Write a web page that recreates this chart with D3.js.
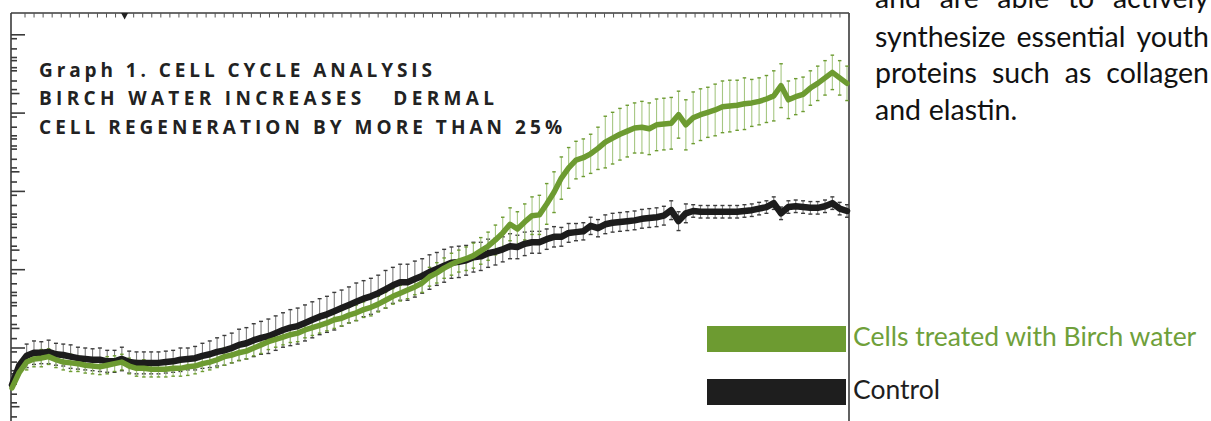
<!DOCTYPE html>
<html><head><meta charset="utf-8">
<script src="https://cdn.jsdelivr.net/npm/d3@7"></script>
<style>
html,body{margin:0;padding:0;background:#fff;}
svg{display:block;}
</style></head><body>
<svg id="chart" width="1211" height="421"></svg>
<script>
// Measurement index (one reading per interval)
const timepoints = d3.range(115);

// Control cells: mean cell index per reading
const control = [
  0.53,0.78,0.90,0.94,0.94,0.95,0.92,0.91,0.89,0.87,
  0.86,0.85,0.85,0.83,0.83,0.86,0.82,0.81,0.81,0.81,
  0.81,0.82,0.83,0.85,0.86,0.87,0.90,0.92,0.95,0.97,
  1.00,1.04,1.06,1.10,1.13,1.15,1.19,1.23,1.26,1.28,
  1.32,1.36,1.40,1.43,1.47,1.51,1.55,1.59,1.63,1.66,
  1.70,1.75,1.80,1.84,1.84,1.88,1.92,1.97,2.01,2.05,
  2.09,2.10,2.12,2.16,2.17,2.21,2.23,2.26,2.30,2.29,
  2.33,2.35,2.35,2.39,2.42,2.42,2.47,2.48,2.49,2.56,
  2.53,2.58,2.60,2.61,2.62,2.63,2.65,2.66,2.67,2.69,
  2.76,2.62,2.72,2.75,2.74,2.74,2.74,2.74,2.74,2.74,
  2.75,2.76,2.78,2.80,2.85,2.72,2.80,2.81,2.80,2.79,
  2.79,2.81,2.85,2.78,2.75
];
const controlErr = [
  0,0,0.15,0.15,0.14,0.15,0.14,0.14,0.15,0.14,
  0.14,0.14,0.15,0.14,0.14,0.15,0.14,0.14,0.14,0.14,
  0.14,0.14,0.14,0.15,0.14,0.15,0.16,0.17,0.18,0.19,
  0.19,0.20,0.20,0.21,0.21,0.22,0.22,0.22,0.23,0.23,
  0.23,0.23,0.23,0.23,0.24,0.23,0.23,0.24,0.23,0.23,
  0.23,0.24,0.23,0.23,0.23,0.23,0.22,0.22,0.21,0.21,
  0.20,0.20,0.19,0.19,0.18,0.18,0.17,0.16,0.16,0.15,
  0.15,0.14,0.14,0.13,0.13,0.12,0.12,0.11,0.11,0.11,
  0.11,0.12,0.12,0.12,0.12,0.12,0.12,0.12,0.12,0.12,
  0.12,0.12,0.12,0.08,0.08,0.08,0.08,0.08,0.08,0.08,
  0.08,0.08,0.08,0.08,0.08,0.08,0.08,0.08,0.08,0.08,
  0.08,0.08,0.08,0.08,0.08
];

// Cells treated with birch water: mean cell index per reading
const birch = [
  0.49,0.69,0.82,0.86,0.87,0.89,0.85,0.82,0.81,0.80,
  0.78,0.77,0.76,0.78,0.80,0.82,0.77,0.74,0.74,0.73,
  0.73,0.73,0.74,0.74,0.76,0.77,0.80,0.82,0.85,0.89,
  0.91,0.94,0.96,1.00,1.04,1.08,1.11,1.14,1.17,1.19,
  1.23,1.26,1.29,1.32,1.36,1.38,1.42,1.45,1.49,1.52,
  1.56,1.61,1.66,1.70,1.74,1.78,1.83,1.91,1.96,2.02,
  2.07,2.11,2.14,2.18,2.24,2.30,2.38,2.47,2.58,2.52,
  2.61,2.69,2.70,2.84,2.99,3.17,3.30,3.40,3.43,3.48,
  3.55,3.63,3.68,3.73,3.77,3.81,3.82,3.80,3.85,3.86,
  3.87,3.98,3.85,3.94,3.98,4.01,4.04,4.08,4.09,4.10,
  4.12,4.13,4.15,4.18,4.22,4.35,4.17,4.21,4.24,4.32,
  4.38,4.45,4.52,4.45,4.38
];
const birchErr = [
  0,0,0.10,0.10,0.11,0.10,0.10,0.10,0.11,0.10,
  0.10,0.10,0.10,0.11,0.10,0.10,0.10,0.10,0.11,0.10,
  0.10,0.10,0.10,0.10,0.11,0.10,0.10,0.10,0.10,0.11,
  0.10,0.10,0.10,0.10,0.11,0.10,0.10,0.10,0.10,0.11,
  0.10,0.10,0.10,0.10,0.11,0.10,0.10,0.10,0.10,0.11,
  0.10,0.10,0.10,0.10,0.11,0.10,0.12,0.12,0.13,0.13,
  0.14,0.14,0.15,0.16,0.17,0.18,0.19,0.20,0.21,0.22,
  0.23,0.24,0.25,0.26,0.26,0.27,0.26,0.24,0.24,0.25,
  0.27,0.33,0.33,0.33,0.33,0.32,0.33,0.33,0.33,0.33,
  0.33,0.30,0.32,0.33,0.33,0.32,0.33,0.33,0.33,0.32,
  0.33,0.30,0.30,0.30,0.32,0.28,0.24,0.23,0.22,0.22,
  0.22,0.22,0.22,0.22,0.22
];

// Vertical axis: long ticks and the repeating minor tick pattern below each one
const majorTicks = [1, 2, 3, 4, 5];
const minorOffsets = [0.05, 0.18, 0.29, 0.33, 0.42, 0.46, 0.59, 0.70, 0.75, 0.88];
const mediumOffset = 0.75;
const rulerTicks = d3.range(92);
const rulerMarker = 11;

const titleLines = [
  "Graph 1. CELL CYCLE ANALYSIS",
  "BIRCH WATER INCREASES   DERMAL",
  "CELL REGENERATION BY MORE THAN 25%"
];
const legendItems = [
  { label: "Cells treated with Birch water", color: "#6d9b31", text: "#6fa03a" },
  { label: "Control", color: "#1e1e1e", text: "#1e1e1e" }
];
const paragraphLines = [
  "and are able to actively",
  "synthesize essential youth",
  "proteins such as collagen",
  "and elastin."
];

const svg = d3.select("#chart");
const frame = { left: 11, top: 13, right: 849, bottom: 421 };

const x = d3.scaleLinear().domain([0, 114]).range([12, 847]);
const y = d3.scaleLinear().domain([0, 5]).range([426.3, 34.8]);
const ruler = d3.scaleLinear().domain([0, 91]).range([25, 849]);

// Frame
const axisColor = "#3a3a3a";
svg.append("line").attr("x1", frame.left).attr("x2", frame.right)
  .attr("y1", frame.top).attr("y2", frame.top)
  .attr("stroke", axisColor).attr("stroke-width", 1.6);
svg.append("line").attr("x1", frame.left).attr("x2", frame.left)
  .attr("y1", frame.top).attr("y2", frame.bottom)
  .attr("stroke", axisColor).attr("stroke-width", 1.6);
svg.append("line").attr("x1", frame.right).attr("x2", frame.right)
  .attr("y1", frame.top).attr("y2", frame.bottom)
  .attr("stroke", axisColor).attr("stroke-width", 1.6);

// Top ruler ticks
svg.append("g").selectAll("line").data(rulerTicks).join("line")
  .attr("x1", d => ruler(d)).attr("x2", d => ruler(d))
  .attr("y1", frame.top).attr("y2", frame.top + 4.5)
  .attr("stroke", "#555").attr("stroke-width", 1);
svg.append("path")
  .attr("d", () => {
    const cx = ruler(rulerMarker);
    return `M${cx - 3.5},${frame.top} L${cx + 3.5},${frame.top} L${cx},${frame.top + 6.5} Z`;
  })
  .attr("fill", "#222");

// Left axis ticks
const leftTicks = [];
majorTicks.forEach(k => {
  leftTicks.push({ v: k, len: 14 });
  minorOffsets.forEach(o => leftTicks.push({ v: k - o, len: o === mediumOffset ? 8.5 : 6 }));
});
svg.append("g").selectAll("line").data(leftTicks).join("line")
  .attr("x1", frame.left).attr("x2", d => frame.left + d.len)
  .attr("y1", d => y(d.v)).attr("y2", d => y(d.v))
  .attr("stroke", axisColor).attr("stroke-width", 1.6);

// Error bars
function errorBars(values, errs, stem, cap, capW) {
  const g = svg.append("g");
  const pts = timepoints.filter(i => errs[i] > 0);
  g.selectAll("line.stem").data(pts).join("line").attr("class", "stem")
    .attr("x1", i => x(i)).attr("x2", i => x(i))
    .attr("y1", i => y(values[i] + errs[i])).attr("y2", i => y(values[i] - errs[i]))
    .attr("stroke", stem).attr("stroke-width", 1.1);
  [1, -1].forEach(s => {
    g.selectAll("line.cap" + (s > 0 ? "t" : "b")).data(pts).join("line")
      .attr("class", "cap" + (s > 0 ? "t" : "b"))
      .attr("x1", i => x(i) - capW / 2).attr("x2", i => x(i) + capW / 2)
      .attr("y1", i => y(values[i] + s * errs[i])).attr("y2", i => y(values[i] + s * errs[i]))
      .attr("stroke", cap).attr("stroke-width", 1.4);
  });
}
errorBars(control, controlErr, "#7c7c7c", "#3c3c3c", 4);
errorBars(birch, birchErr, "#a6c783", "#6d9b31", 3.5);

// Series lines
svg.append("path").datum(timepoints)
  .attr("d", d3.line().x(i => x(i)).y(i => y(control[i])))
  .attr("fill", "none").attr("stroke", "#1c1c1c").attr("stroke-width", 6.5)
  .attr("stroke-linejoin", "round").attr("stroke-linecap", "round");
svg.append("path").datum(timepoints)
  .attr("d", d3.line().x(i => x(i)).y(i => y(birch[i])))
  .attr("fill", "none").attr("stroke", "#6d9b31").attr("stroke-width", 5.5)
  .attr("stroke-linejoin", "round").attr("stroke-linecap", "round");

// Title block
const titleWidths = [393, 455, 523];
const titleBase = [76.5, 105, 134];
svg.append("g").selectAll("text").data(titleLines).join("text")
  .attr("x", 39).attr("y", (d, i) => titleBase[i])
  .attr("textLength", (d, i) => titleWidths[i]).attr("lengthAdjust", "spacing")
  .style("white-space", "pre")
  .attr("font-family", "'Open Sans', Lato, sans-serif").attr("font-weight", 700)
  .attr("font-size", 19).attr("fill", "#222")
  .text(d => d);

// Legend
const legendRows = [326, 379];
legendItems.forEach((item, i) => {
  svg.append("rect").attr("x", 707).attr("y", legendRows[i])
    .attr("width", 139).attr("height", 26).attr("fill", item.color);
  svg.append("text").attr("x", 853).attr("y", legendRows[i] + 19.5)
    .attr("font-family", "Lato, 'Open Sans', sans-serif").attr("font-size", 26.5)
    .attr("fill", item.text).text(item.label);
});

// Justified paragraph beside the chart
const paraLeft = 875, paraRight = 1209;
const paraBase = [7.5, 46.5, 83.3, 119.5];
const paraSize = 28.5;
paragraphLines.forEach((ln, li) => {
  const words = ln.split(" ");
  const g = svg.append("g");
  const nodes = words.map(w => g.append("text")
    .attr("font-family", "Lato, 'Open Sans', sans-serif").attr("font-size", paraSize)
    .attr("fill", "#111").attr("y", paraBase[li]).text(w));
  const widths = nodes.map(n => n.node().getComputedTextLength());
  const total = d3.sum(widths);
  const last = li === paragraphLines.length - 1;
  const gap = last ? paraSize * 0.27 : (paraRight - paraLeft - total) / (words.length - 1);
  let cx = paraLeft;
  nodes.forEach((n, k) => { n.attr("x", cx); cx += widths[k] + gap; });
});
</script>
</body></html>
